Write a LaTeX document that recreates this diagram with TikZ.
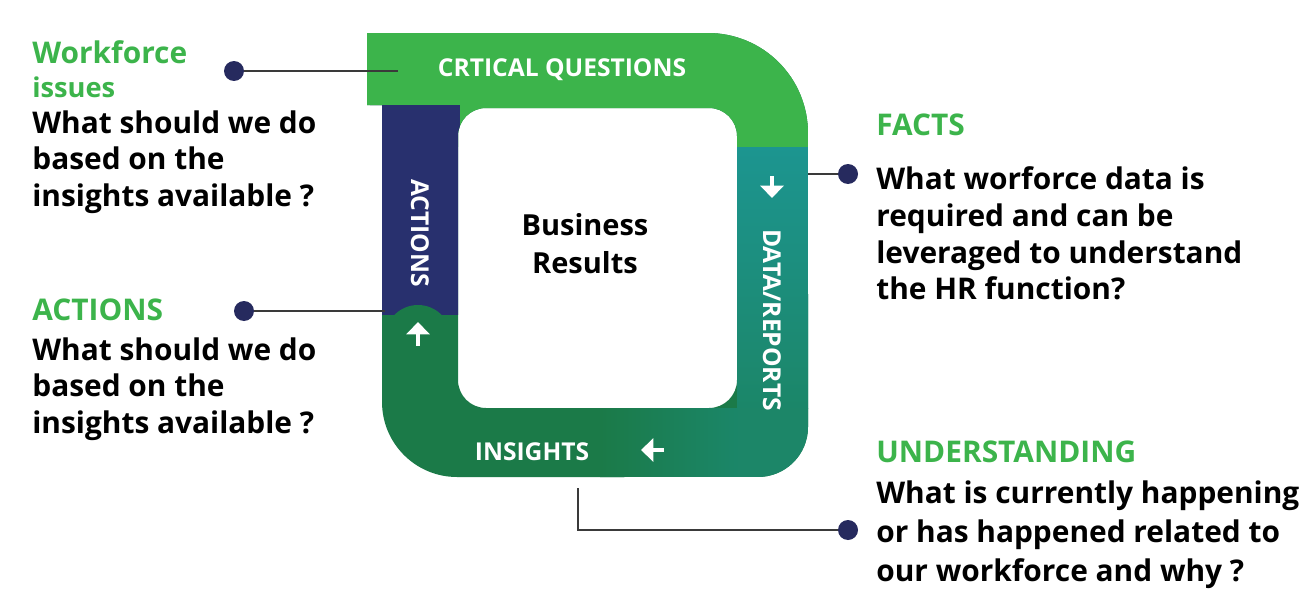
\documentclass[tikz,border=0pt]{standalone}
\usepackage{fontspec}
\setmainfont{Open Sans}
\usetikzlibrary{positioning, arrows.meta, calc}

\definecolor{qgreen}{HTML}{3CB44B}
\definecolor{ringnavy}{HTML}{28306E}
\definecolor{ringdark}{HTML}{1B7A48}
\definecolor{ringteal}{HTML}{1C9590}
\definecolor{dotnavy}{HTML}{262A5E}
\definecolor{leadgray}{HTML}{3A3A3A}
\colorlet{ringmix}{ringdark!55!ringteal}

% outer loop with the white window cut out (px units, y up)
\newcommand{\ringpath}{(367,577) -- (708,577) arc[start angle=90, end angle=0, radius=2cm]
    -- (808,183) arc[start angle=0, end angle=-90, radius=1cm]
    -- (457,133) arc[start angle=-90, end angle=-180, radius=1.5cm]
    -- (382,505) -- (367,505) -- cycle
    [rounded corners=0.56cm] (458,202) rectangle (737,502)}

\begin{document}
\begin{tikzpicture}[
        x=0.02cm, y=0.02cm,
        ringlabel/.style={text=white, font=\bfseries\fontsize{14}{16}\selectfont, inner sep=0},
        title/.style={text=qgreen, font=\bfseries\fontsize{17}{21}\selectfont, anchor=base west, inner sep=0},
        body/.style={font=\bfseries\fontsize{17}{21}\selectfont, align=left, anchor=north west, inner sep=0},
        dot/.style={circle, fill=dotnavy, minimum size=0.4cm, inner sep=0},
        lead/.style={leadgray, line width=1.4pt},
        flowtip/.style={white, line width=2.2pt, -{Triangle[width=13pt, length=7pt]}}
    ]
    \fill[white] (0,0) rectangle (1312,610);
    \useasboundingbox (0,0) rectangle (1312,610);

    % loop
    \fill[ringdark, even odd rule] \ringpath;
    \begin{scope}[even odd rule]
        \clip \ringpath;
        \shade[top color=ringteal, bottom color=ringmix] (737,202) rectangle (820,463);
        \fill[ringmix] (736,120) rectangle (820,202.5);
        \shade[left color=ringdark, right color=ringmix] (600,120) rectangle (737,202);
        \fill[qgreen] (360,463) rectangle (820,590);
        \fill[ringnavy] (370,295) rectangle (460,505);
        \fill[ringdark] (418,272) circle[radius=0.66cm];
    \end{scope}

    % direction marks
    \draw[flowtip] (772,434) -- (772,412);
    \draw[flowtip] (664,160) -- (641,160);
    \draw[flowtip] (418,264) -- (418,288);

    \node[ringlabel] (cq) at (562,540) {CRTICAL QUESTIONS};
    \node[ringlabel, rotate=-90] (act) at (420,377) {ACTIONS};
    \node[ringlabel, rotate=-90] (dr) at (772,290) {DATA/REPORTS};
    \node[ringlabel] (ins) at (532,158) {INSIGHTS};
    \node[font=\bfseries\fontsize{16.5}{21.5}\selectfont, align=center] (br) at (585,366) {Business\\Results};

    % left side
    \node[title] (wf) at (32,547) {Workforce};
    \node[title, font=\bfseries\fontsize{15.5}{20}\selectfont] (wfi) at (32,513) {issues};
    \node[body] (wfq) at (32,500) {What should we do\\based on the\\insights available ?};

    \node[title] (ac) at (32,290) {ACTIONS};
    \node[body] (acq) at (32,273) {What should we do\\based on the\\insights available ?};

    % right side
    \node[title] (fa) at (876,475) {FACTS};
    \node[body] (faq) at (876,444) {What worforce data is\\required and can be\\leveraged to understand\\the HR function?};

    \node[title] (un) at (876,148) {UNDERSTANDING};
    \node[body, font=\bfseries\fontsize{17}{22.2}\selectfont] (unq) at (876,130) {What is currently happening\\or has happened related to\\our workforce and why ?};

    % leaders
    \node[dot] (d1) at (234,539) {};
    \node[dot] (d2) at (244,299) {};
    \node[dot] (d3) at (848,436) {};
    \node[dot] (d4) at (848,80) {};
    \coordinate (cqend) at (398,539);
    \coordinate (actend) at (385,299);
    \coordinate (drend) at (808,436);
    \coordinate (insend) at (578,122);

    \draw[lead] (d1) -- (cqend);
    \draw[lead] (d2) -- (actend);
    \draw[lead] (drend) -- (d3);
    \draw[lead] (insend) |- (d4);
\end{tikzpicture}
\end{document}
